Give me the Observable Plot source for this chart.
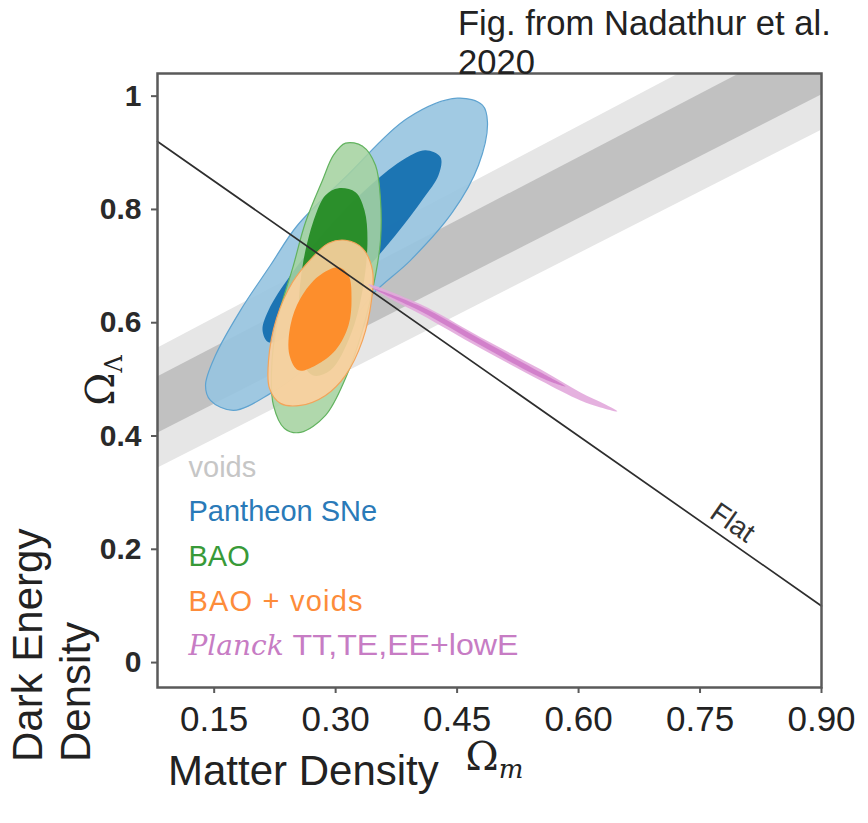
<!DOCTYPE html>
<html><head><meta charset="utf-8">
<script src="https://cdn.jsdelivr.net/npm/d3@7"></script>
<script src="https://cdn.jsdelivr.net/npm/@observablehq/plot@0.6"></script>
<style>
body{margin:0;background:#fff;}
#wrap{position:relative;width:868px;height:823px;overflow:hidden;font-family:"Liberation Sans",Arial,sans-serif;background:#fff;}
#chart{position:absolute;left:0;top:0;}
.slide{position:absolute;color:#222;white-space:nowrap;}
</style></head><body>
<div id="wrap">
<div id="chart"></div>
<div class="slide" style="left:458px;top:4px;font-size:34.6px;line-height:39px;">Fig. from Nadathur et al.<br>2020</div>
<div class="slide" style="left:4px;top:762px;font-size:42px;line-height:48px;transform:rotate(-90deg);transform-origin:0 0;">Dark Energy<br>Density</div>
<div class="slide" style="left:168px;top:750px;font-size:42px;line-height:42px;">Matter Density</div>
</div>
<script>
// ---- axis ticks ----
const xTicks = [0.15, 0.30, 0.45, 0.60, 0.75, 0.90];
const xTickLabels = ["0.15", "0.30", "0.45", "0.60", "0.75", "0.90"];
const yTicks = [0, 0.2, 0.4, 0.6, 0.8, 1];
const yTickLabels = ["0", "0.2", "0.4", "0.6", "0.8", "1"];

// ---- voids degeneracy bands (Omega_m, lower/upper Omega_Lambda) ----
const voidsOm = [0.08, 0.90];
const voids2sigmaLo = [0.343, 0.940];
const voids2sigmaHi = [0.555, 1.172];
const voids1sigmaLo = [0.405, 1.002];
const voids1sigmaHi = [0.504, 1.115];

// ---- contours: [Omega_m, Omega_Lambda] ----
const pantheon2sigma = [[0.4505,0.9965],[0.4813,0.9841],[0.4875,0.9541],[0.4764,0.8781],[0.4443,0.7951],[0.3924,0.7102],[0.3467,0.6519],[0.3146,0.5919],[0.2566,0.5124],[0.2195,0.4753],[0.1739,0.4452],[0.1454,0.4629],[0.1393,0.4894],[0.1516,0.5424],[0.1825,0.6219],[0.2195,0.7014],[0.2529,0.7721],[0.3146,0.8604],[0.3887,0.9611]];
const pantheon1sigma = [[0.4110,0.9046],[0.4295,0.8922],[0.4270,0.8604],[0.4085,0.8198],[0.3739,0.7544],[0.3307,0.6837],[0.2813,0.6184],[0.2381,0.5742],[0.2171,0.5654],[0.2097,0.5866],[0.2171,0.6219],[0.2442,0.6837],[0.2936,0.7721],[0.3430,0.8428],[0.3863,0.8905]];
const bao2sigma = [[0.3122,0.9170],[0.3332,0.9117],[0.3492,0.8781],[0.3554,0.8163],[0.3554,0.7456],[0.3492,0.6837],[0.3332,0.5866],[0.3122,0.5018],[0.2875,0.4364],[0.2566,0.4064],[0.2368,0.4134],[0.2232,0.4541],[0.2208,0.5159],[0.2282,0.6042],[0.2479,0.7014],[0.2628,0.7774],[0.2838,0.8516],[0.2973,0.8958]];
const bao1sigma = [[0.3035,0.8375],[0.3245,0.8304],[0.3356,0.7986],[0.3393,0.7456],[0.3332,0.6572],[0.3183,0.5777],[0.2936,0.5159],[0.2714,0.5071],[0.2566,0.5424],[0.2541,0.6219],[0.2603,0.7102],[0.2751,0.7898],[0.2875,0.8251]];
const baoVoids2sigma = [[0.3122,0.7456],[0.3332,0.7314],[0.3455,0.6926],[0.3443,0.6396],[0.3332,0.5689],[0.3122,0.5071],[0.2875,0.4717],[0.2566,0.4541],[0.2319,0.4576],[0.2183,0.4841],[0.2171,0.5336],[0.2270,0.6078],[0.2467,0.6714],[0.2714,0.7155],[0.2912,0.7403]];
const baoVoids1sigma = [[0.3035,0.6979],[0.3159,0.6837],[0.3196,0.6431],[0.3159,0.5954],[0.2998,0.5512],[0.2751,0.5247],[0.2541,0.5159],[0.2430,0.5424],[0.2442,0.5954],[0.2566,0.6431],[0.2788,0.6820]];
const planck2sigma = [[0.3406,0.6678],[0.4048,0.6325],[0.4789,0.5742],[0.5530,0.5177],[0.6024,0.4770],[0.6332,0.4558],[0.6480,0.4435],[0.6271,0.4505],[0.6024,0.4629],[0.5530,0.4982],[0.4789,0.5548],[0.4048,0.6148],[0.3554,0.6519]];
const planck1sigma = [[0.3455,0.6608],[0.4048,0.6290],[0.4789,0.5707],[0.5530,0.5124],[0.5838,0.4876],[0.5530,0.5035],[0.4789,0.5601],[0.4048,0.6201]];

// ---- flat universe line ----
const flatOm = [0.08, 0.90];
const flatOl = [0.92, 0.10];
const flatLabel = [{text: "Flat", om: 0.778}];

// ---- legend ----
const legendLabels = ["voids", "Pantheon SNe", "BAO", "BAO + voids"];
const planckLabel = ["Planck", "TT,TE,EE+lowE"];

const C = {
  voidsLight: "#e6e6e6", voidsDark: "#c1c1c1",
  blueOuter: "#97c4e0", blueInner: "#1570b0", blueEdge: "#5fa3d0",
  greenOuter: "#a5d3a0", greenInner: "#248b24", greenEdge: "#62b35f",
  orangeOuter: "#fdd09e", orangeInner: "#fd8b28", orangeEdge: "#f3a45a",
  planckOuter: "#e2a8dc", planckInner: "#cf78c8"
};
const legendColors = ["#c6c6c6", "#2a7ab8", "#389a38", "#fd8c3a"];
const legendOffsets = [-211, -167, -122, -77];

const contour = (data, fill, stroke, opacity) => Plot.line(data, {
  x: d => d[0], y: d => d[1], curve: "catmull-rom-closed",
  fill, fillOpacity: opacity, stroke: stroke || "none", strokeWidth: 1.2
});

const voidsRows = voidsOm.map((om, i) => ({om, lo2: voids2sigmaLo[i], hi2: voids2sigmaHi[i], lo1: voids1sigmaLo[i], hi1: voids1sigmaHi[i]}));
const flatRows = flatOm.map((om, i) => ({om, ol: flatOl[i]}));

const chart = Plot.plot({
  width: 868, height: 823,
  marginTop: 73, marginLeft: 157, marginRight: 47, marginBottom: 136,
  x: {domain: [0.08, 0.90]},
  y: {domain: [-0.044, 1.04]},
  style: {fontFamily: "Liberation Sans, Arial, sans-serif", background: "transparent"},
  marks: [
    Plot.areaY(voidsRows, {x: "om", y1: "lo2", y2: "hi2", fill: C.voidsLight, clip: true}),
    Plot.areaY(voidsRows, {x: "om", y1: "lo1", y2: "hi1", fill: C.voidsDark, clip: true}),
    contour(pantheon2sigma, C.blueOuter, C.blueEdge, 0.9),
    contour(pantheon1sigma, C.blueInner, null, 0.95),
    contour(bao2sigma, C.greenOuter, C.greenEdge, 0.88),
    contour(bao1sigma, C.greenInner, null, 0.95),
    contour(baoVoids2sigma, C.orangeOuter, C.orangeEdge, 0.9),
    contour(baoVoids1sigma, C.orangeInner, null, 0.97),
    contour(planck2sigma, C.planckOuter, null, 0.9),
    contour(planck1sigma, C.planckInner, null, 0.85),
    Plot.line(flatRows, {x: "om", y: "ol", stroke: "#2e2e2e", strokeWidth: 1.7}),
    Plot.text(flatLabel, {x: "om", y: d => 1 - d.om, text: "text", rotate: 34.8, dx: 9.8, dy: -14.1,
      fontSize: 28, fill: "#333", lineAnchor: "middle", textAnchor: "middle"}),
    ...legendLabels.map((lab, i) => Plot.text([lab], {frameAnchor: "bottom-left", text: d => d, dx: 31, dy: legendOffsets[i],
      lineAnchor: "bottom", textAnchor: "start", fontSize: 29, fill: legendColors[i]})),
    Plot.text([planckLabel[0]], {frameAnchor: "bottom-left", text: d => d, dx: 31, dy: -33, lineAnchor: "bottom", textAnchor: "start",
      fontSize: 28, fontStyle: "italic", fontFamily: "DejaVu Serif, serif", fill: "#c77cc4"}),
    Plot.text([planckLabel[1]], {frameAnchor: "bottom-left", text: d => d, dx: 135, dy: -33, lineAnchor: "bottom", textAnchor: "start",
      fontSize: 29, fill: "#c77cc4"}),
    Plot.frame({stroke: "#5a5a5a", strokeWidth: 2.5}),
    Plot.axisX({ticks: xTicks, tickFormat: d => xTickLabels[xTicks.indexOf(d)], tickSize: 6, tickPadding: 13,
      fontSize: 35, label: "Ωm", labelAnchor: "center", labelOffset: 82, labelArrow: "none"}),
    Plot.axisY({ticks: yTicks, tickFormat: d => yTickLabels[yTicks.indexOf(d)], tickSize: 6, tickPadding: 10,
      fontSize: 30, fontWeight: "bold", label: "ΩΛ", labelAnchor: "center", labelOffset: 72, labelArrow: "none"})
  ]
});
document.getElementById("chart").appendChild(chart);

// styling / subscripts
const svg = d3.select(chart);
svg.selectAll('g[aria-label="x-axis tick"], g[aria-label="y-axis tick"]').attr("stroke", "#5a5a5a").attr("stroke-width", 2);
svg.selectAll('g[aria-label="x-axis tick label"]').attr("fill", "#222").attr("font-size", 35).attr("font-weight", "normal");
svg.selectAll('g[aria-label="y-axis tick label"]').attr("fill", "#2a2a2a").attr("font-size", 30).attr("font-weight", "bold");
svg.selectAll("text").each(function() {
  const t = this.textContent;
  if (t === "Ωm") {
    d3.select(this).attr("font-family", "DejaVu Serif, serif").attr("font-size", 40).attr("font-weight", "normal").attr("fill", "#222")
      .attr("dx", 5)
      .html('Ω<tspan font-style="italic" font-size="26" dy="8">m</tspan>');
  } else if (t === "ΩΛ") {
    d3.select(this).attr("font-family", "DejaVu Serif, serif").attr("font-size", 40).attr("font-weight", "normal").attr("fill", "#222")
      .html('Ω<tspan font-size="24" dy="8">Λ</tspan>');
  } else if (t === "TT,TE,EE+lowE") {
    d3.select(this).attr("textLength", 226).attr("lengthAdjust", "spacingAndGlyphs");
  } else if (t === "BAO + voids") {
    d3.select(this).attr("textLength", 174).attr("lengthAdjust", "spacing");
  }
});
</script>
</body></html>
